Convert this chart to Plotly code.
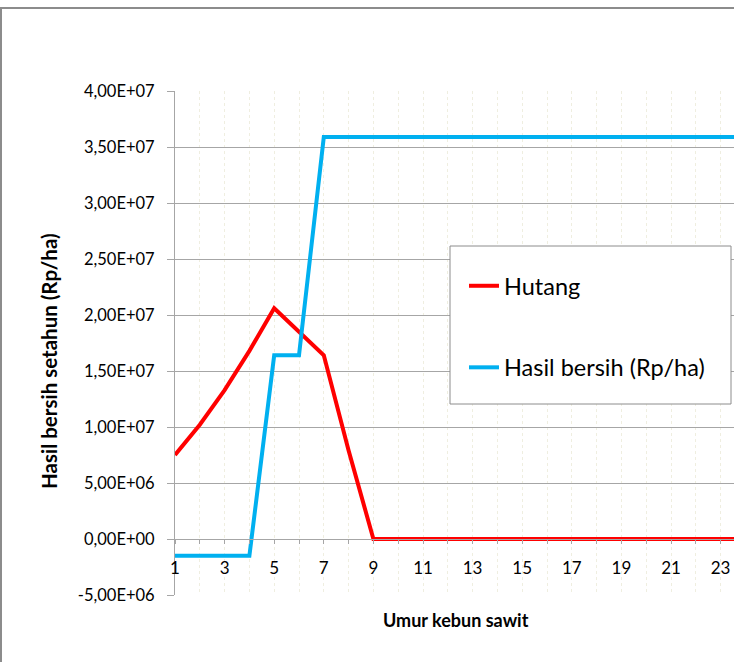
import plotly.graph_objects as go

# Umur kebun sawit (tahun)
umur = list(range(1, 26))

# Hutang per tahun (Rp/ha)
hutang = [7.5e6, 1.02e7, 1.33e7, 1.68e7, 2.06e7, 1.85e7, 1.64e7, 7.9e6, 0] + [0] * 16

# Hasil bersih setahun (Rp/ha)
hasil_bersih = [-1.5e6, -1.5e6, -1.5e6, -1.5e6, 1.64e7, 1.64e7] + [3.59e7] * 19

y_ticks = [-5e6 + i * 5e6 for i in range(10)]
y_ticktext = ["-5,00E+06", "0,00E+00", "5,00E+06", "1,00E+07", "1,50E+07",
              "2,00E+07", "2,50E+07", "3,00E+07", "3,50E+07", "4,00E+07"]
x_labels = list(range(1, 24, 2))

FONT = "Lato, 'Open Sans', sans-serif"
GRID = "#a6a6a6"

# pixel layout helpers (plot area spans x 175..734, y 91..595)
L, T, R, B = 175, 91, 0, 67
W, H = 734, 662
PW, PH = W - L - R, H - T - B


def px(X):
    return (X - L) / PW


def py(Y):
    return (T + PH - Y) / PH


fig = go.Figure()
fig.add_trace(go.Scatter(x=umur, y=hutang, mode="lines", name="Hutang",
                         legendgroup="a",
                         line=dict(color="#ff0000", width=4)))
fig.add_trace(go.Scatter(x=umur, y=hasil_bersih, mode="lines", name="Hasil bersih (Rp/ha)",
                         legendgroup="b",
                         line=dict(color="#00b0f0", width=4)))

zero_pos = (0 - (-5e6)) / (4e7 - (-5e6))

fig.update_layout(
    width=W, height=H,
    margin=dict(l=L, r=R, t=T, b=B),
    paper_bgcolor="white", plot_bgcolor="white",
    font=dict(family=FONT, size=16, color="#000000"),
    showlegend=True,
    legend=dict(x=px(464), y=py(264), xanchor="left", yanchor="top",
                bgcolor="rgba(0,0,0,0)", borderwidth=0,
                font=dict(size=23.5, family=FONT), tracegroupgap=48),
    xaxis=dict(
        range=[1, 1 + PW / 24.8], anchor="free", position=zero_pos,
        tickmode="array", tickvals=x_labels, ticktext=[str(v) for v in x_labels],
        ticks="outside", ticklen=4, tickcolor=GRID, ticklabelstandoff=10,
        showline=True, linecolor=GRID, linewidth=1,
        showgrid=False, zeroline=False,
        tickfont=dict(size=17),
        minor=dict(dtick=1, tick0=1, ticks="outside", ticklen=4, tickcolor=GRID,
                   showgrid=True, gridcolor="#efeee0", griddash="3px,3px", gridwidth=1),
    ),
    yaxis=dict(
        range=[-5e6, 4e7], tickmode="array", tickvals=y_ticks, ticktext=y_ticktext,
        ticks="outside", ticklen=7, tickcolor=GRID, ticklabelstandoff=9,
        showline=True, linecolor=GRID, linewidth=1,
        showgrid=True, gridcolor=GRID, gridwidth=1, zeroline=False,
        tickfont=dict(size=16.5),
    ),
    shapes=[
        # chart frame
        dict(type="rect", xref="paper", yref="paper",
             x0=px(1), x1=px(760), y0=py(700), y1=py(8),
             line=dict(color="#8c8c8c", width=2), layer="below"),
        # legend frame
        dict(type="rect", xref="paper", yref="paper",
             x0=px(450), x1=px(731), y0=py(404), y1=py(246),
             line=dict(color="#8c8c8c", width=1), fillcolor="white", layer="above"),
    ],
    annotations=[
        dict(text="<b>Umur kebun sawit</b>", xref="paper", yref="paper",
             x=px(456), y=py(633), showarrow=False, font=dict(size=18)),
        dict(text="<b>Hasil bersih setahun (Rp/ha)</b>", xref="paper", yref="paper",
             x=px(35), y=py(361), showarrow=False, textangle=-90, font=dict(size=20.5)),
    ],
)

fig.write_html("out.html")
